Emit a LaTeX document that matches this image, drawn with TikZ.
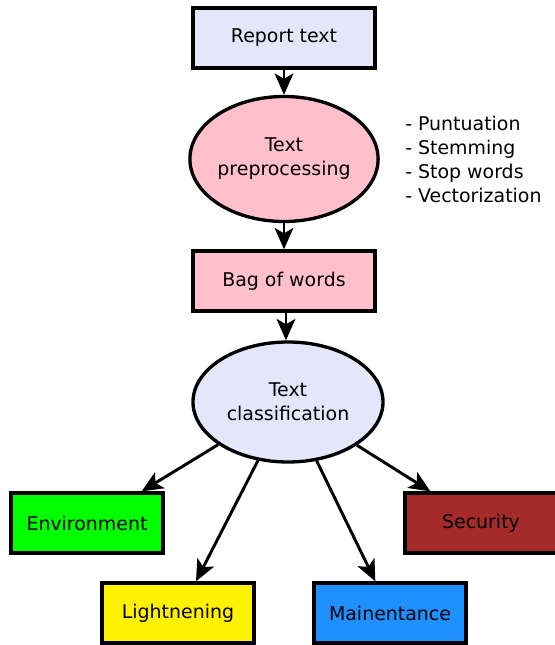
\documentclass[tikz,border=0pt]{standalone}
\usepackage{fontspec}
\setmainfont{DejaVu Sans}
\usetikzlibrary{shapes.geometric,arrows.meta}
\definecolor{lavender}{HTML}{E6E6FA}
\definecolor{pinkish}{HTML}{FFC0CB}
\definecolor{brownred}{HTML}{A52A2A}
\definecolor{dodger}{HTML}{1E90FF}
\begin{document}
\begin{tikzpicture}[x=0.75pt,y=-0.75pt,
  box/.style={draw,line width=2.5pt,minimum width=136.5pt,minimum height=45pt,inner sep=0pt},
  catbox/.style={draw,line width=2.5pt,minimum width=114pt,minimum height=45pt,inner sep=0pt},
  oval/.style={draw,ellipse,line width=2.5pt,inner sep=0pt,align=center},
  flow/.style={line width=2.2pt,-{Stealth[length=16pt,width=14pt,inset=4pt]}}]
\useasboundingbox (0,0) rectangle (555,645);
\tikzstyle{every node}+=[font=\fontsize{14.2}{18}\selectfont]
% main chain
\node [box,fill=lavender] (report) at (284,38) {Report text};
\node [oval,fill=pinkish,minimum width=136.5pt,minimum height=93.75pt] (prep) at (284,159) {Text\\preprocessing};
\node [box,fill=pinkish] (bag) at (284,281) {Bag of words};
\node [oval,fill=lavender,minimum width=142.5pt,minimum height=90pt] (cls) at (288,402) {Text\\classification};
\node [anchor=west,align=left,inner sep=0pt] (notes) at (405,159) {- Puntuation\\- Stemming\\- Stop words\\- Vectorization};
% categories
\node [catbox,fill=green] (env) at (87,523) {Environment};
\node [catbox,fill=brownred] (sec) at (481,523) {Security};
\node [catbox,fill=yellow] (light) at (178,613) {Lightnening};
\node [catbox,fill=dodger] (maint) at (390,613) {Mainentance};
% arrows
\draw [flow] (report) -- (prep);
\draw [flow] (prep) -- (bag);
\draw [flow] ([xshift=1.5pt]bag.south) -- ([xshift=1.5pt]bag.south |- cls.north);
\draw [flow] (cls) -- ([xshift=41pt]env.north);
\draw [flow] (cls) -- ([xshift=13.5pt]light.north);
\draw [flow] (cls) -- ([xshift=-11pt]maint.north);
\draw [flow] (cls) -- ([xshift=-38pt]sec.north);
\end{tikzpicture}
\end{document}
